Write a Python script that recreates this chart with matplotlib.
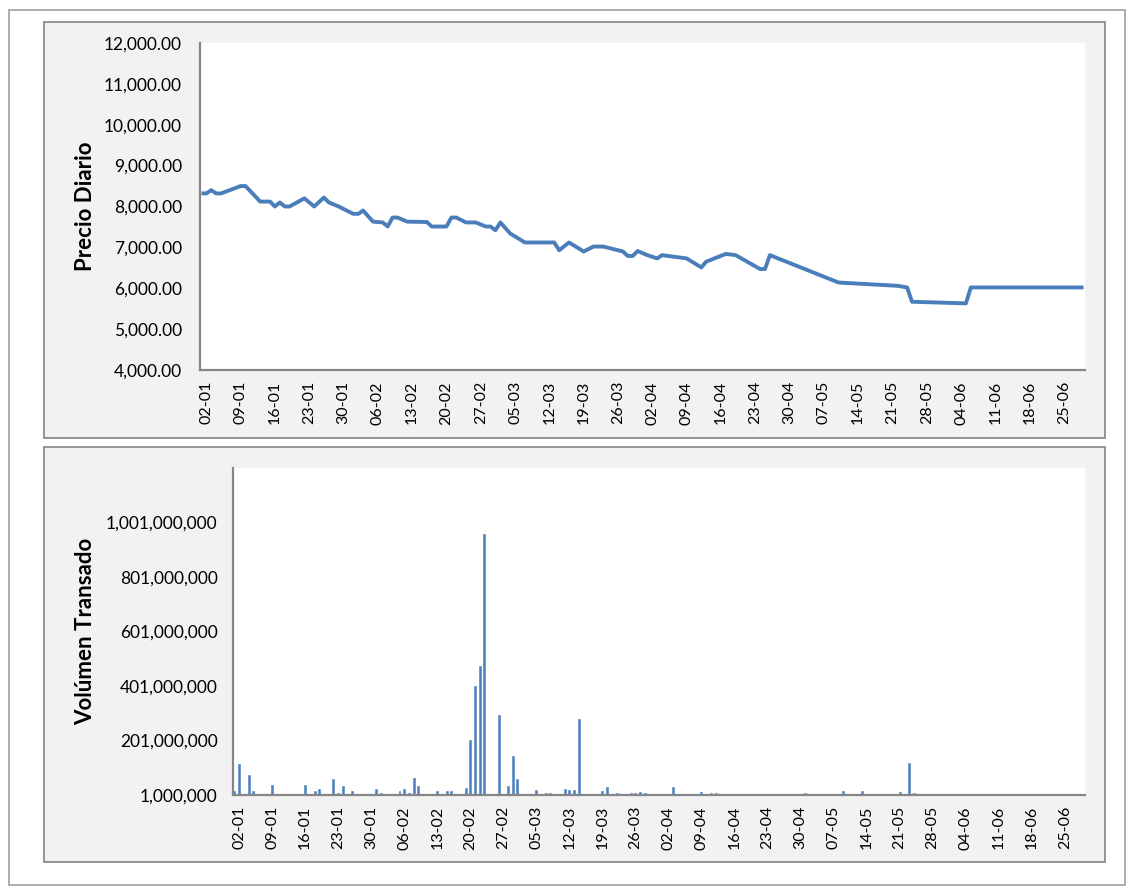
import matplotlib
matplotlib.use('Agg')
import matplotlib.pyplot as plt
import matplotlib.dates as mdates
from matplotlib.patches import Rectangle
from matplotlib.ticker import FuncFormatter, FixedLocator
import pandas as pd

# ---------------- data ----------------
price_dates = ["2012-01-01", "2012-01-02", "2012-01-03", "2012-01-04", "2012-01-05",
               "2012-01-09", "2012-01-10", "2012-01-13", "2012-01-15", "2012-01-16",
               "2012-01-17", "2012-01-18", "2012-01-19", "2012-01-22", "2012-01-24",
               "2012-01-26", "2012-01-27", "2012-01-29", "2012-02-01", "2012-02-02",
               "2012-02-03", "2012-02-05", "2012-02-07", "2012-02-08", "2012-02-09",
               "2012-02-10", "2012-02-12", "2012-02-16", "2012-02-17", "2012-02-20",
               "2012-02-21", "2012-02-22", "2012-02-24", "2012-02-26", "2012-02-28",
               "2012-02-29", "2012-03-01", "2012-03-02", "2012-03-04", "2012-03-07",
               "2012-03-13", "2012-03-14", "2012-03-16", "2012-03-19", "2012-03-21",
               "2012-03-23", "2012-03-26", "2012-03-27", "2012-03-28", "2012-03-29",
               "2012-03-30", "2012-04-01", "2012-04-03", "2012-04-04", "2012-04-09",
               "2012-04-12", "2012-04-13", "2012-04-17", "2012-04-19", "2012-04-24",
               "2012-04-25", "2012-04-26", "2012-05-10", "2012-05-22", "2012-05-24",
               "2012-05-25", "2012-06-05", "2012-06-06", "2012-06-29"]
price_values = [8320, 8320, 8400, 8320, 8320,
                8500, 8500, 8120, 8120, 8000,
                8100, 8000, 8000, 8200, 8000,
                8220, 8100, 8000, 7820, 7820,
                7900, 7630, 7610, 7510, 7730,
                7730, 7630, 7620, 7510, 7510,
                7730, 7730, 7610, 7610, 7510,
                7510, 7420, 7610, 7340, 7120,
                7120, 6930, 7120, 6900, 7020,
                7020, 6930, 6900, 6790, 6790,
                6910, 6810, 6730, 6810, 6730,
                6510, 6650, 6840, 6810, 6470,
                6470, 6810, 6140, 6060, 6020,
                5670, 5630, 6020, 6020]

volume_dates = ["2012-01-01", "2012-01-02", "2012-01-04", "2012-01-05", "2012-01-09",
                "2012-01-16", "2012-01-18", "2012-01-19", "2012-01-22", "2012-01-23",
                "2012-01-24", "2012-01-26", "2012-01-31", "2012-02-01", "2012-02-05",
                "2012-02-06", "2012-02-07", "2012-02-08", "2012-02-09", "2012-02-12",
                "2012-02-13", "2012-02-15", "2012-02-16", "2012-02-19", "2012-02-20",
                "2012-02-21", "2012-02-22", "2012-02-23", "2012-02-26", "2012-02-28",
                "2012-02-29", "2012-03-01", "2012-03-05", "2012-03-07", "2012-03-08",
                "2012-03-11", "2012-03-12", "2012-03-13", "2012-03-14", "2012-03-19",
                "2012-03-20", "2012-03-22", "2012-03-25", "2012-03-26", "2012-03-27",
                "2012-03-28", "2012-03-29", "2012-04-02", "2012-04-03", "2012-04-09",
                "2012-04-11", "2012-04-12", "2012-04-16", "2012-04-19", "2012-04-23",
                "2012-04-24", "2012-04-25", "2012-05-01", "2012-05-09", "2012-05-13",
                "2012-05-21", "2012-05-23", "2012-05-24", "2012-06-04", "2012-06-05",
                "2012-06-06", "2012-06-07", "2012-06-11", "2012-06-12", "2012-06-13",
                "2012-06-15", "2012-06-18", "2012-06-19", "2012-06-20", "2012-06-22",
                "2012-06-24", "2012-06-25", "2012-06-26", "2012-06-27", "2012-06-28"]
volume_values = [16e6, 114e6, 76e6, 16e6, 38e6,
                 38e6, 16e6, 22e6, 60e6, 10e6,
                 33e6, 16e6, 22e6, 10e6, 16e6,
                 22e6, 10e6, 65e6, 33e6, 0,
                 16e6, 16e6, 16e6, 26e6, 203e6,
                 402e6, 475e6, 957e6, 295e6, 34e6,
                 144e6, 59e6, 20e6, 9e6, 9e6,
                 23e6, 20e6, 20e6, 279e6, 14e6,
                 30e6, 8e6, 8e6, 9e6, 12e6,
                 7e6, 4e6, 0, 32e6, 12e6,
                 7e6, 7e6, 2e6, 2e6, 2e6,
                 2e6, 2e6, 7e6, 16e6, 16e6,
                 13e6, 120e6, 8e6, 0, 0,
                 0, 0, 0, 0, 0,
                 0, 0, 0, 0, 0,
                 0, 0, 0, 0, 0]

price_ticks = [4000, 5000, 6000, 7000, 8000, 9000, 10000, 11000, 12000]
volume_ticks = [1000000, 201000000, 401000000, 601000000, 801000000, 1001000000]
week_ticks = pd.date_range("2012-01-02", "2012-06-25", freq="7D")

# ---------------- layout ----------------
W, H = 1134, 892
plt.rcParams['font.family'] = ['Lato', 'DejaVu Sans']
fig = plt.figure(figsize=(W / 100, H / 100), dpi=100)
fig.patch.set_facecolor('white')


def fr(x0, y0, x1, y1):
    return [x0 / W, 1 - y1 / H, (x1 - x0) / W, (y1 - y0) / H]


def rect(x0, y0, x1, y1, **kw):
    fig.patches.append(Rectangle((x0 / W, 1 - y1 / H), (x1 - x0) / W, (y1 - y0) / H,
                                 transform=fig.transFigure, zorder=-10, **kw))


rect(9, 10, 1125, 885, fill=False, edgecolor='#a0a0a0', lw=1.2)
rect(44, 22, 1105, 438, facecolor='#f2f2f2', edgecolor='#8c8c8c', lw=1.3)
rect(44, 447, 1105, 862, facecolor='#f2f2f2', edgecolor='#8c8c8c', lw=1.3)

x_left = pd.Timestamp("2012-01-02") - pd.Timedelta(hours=31)
x_right = pd.Timestamp("2012-01-02") + pd.Timedelta(hours=179.3 * 24)

axis_grey = '#868686'
blue_line = '#4a7ebb'
blue_bar = '#4f81bd'


def style(ax, xpad):
    ax.set_facecolor('white')
    for s in ['top', 'right']:
        ax.spines[s].set_visible(False)
    for s in ['left', 'bottom']:
        ax.spines[s].set_color(axis_grey)
        ax.spines[s].set_linewidth(1.6)
    ax.set_xlim(x_left, x_right)
    ax.xaxis.set_major_locator(FixedLocator(mdates.date2num(week_ticks)))
    ax.xaxis.set_major_formatter(mdates.DateFormatter('%d-%m'))
    ax.tick_params(axis='x', length=0, pad=xpad, labelsize=11.5, rotation=90, colors='black')
    ax.tick_params(axis='y', length=0, labelsize=12.5, colors='black')


# top chart
ax1 = fig.add_axes(fr(200, 43, 1085, 370))
style(ax1, 8)
ax1.plot(pd.to_datetime(price_dates), price_values, color=blue_line, lw=2.8,
         solid_joinstyle='round', solid_capstyle='butt')
ax1.set_ylim(4000, 12000)
ax1.yaxis.set_major_locator(FixedLocator(price_ticks))
ax1.yaxis.set_major_formatter(FuncFormatter(lambda v, p: f"{v:,.2f}"))
ax1.tick_params(axis='y', pad=13)
ax1.set_ylabel('Precio Diario', fontsize=16, fontweight='bold')
ax1.yaxis.set_label_coords((96 - 200) / 885, 0.5)

# bottom chart
ax2 = fig.add_axes(fr(233, 468, 1085, 795))
style(ax2, 8)
base = 1000000
ax2.bar(pd.to_datetime(volume_dates), [v - base for v in volume_values], bottom=base,
        width=0.42, color=blue_bar, edgecolor=blue_bar, lw=0.4, clip_on=False)
ax2.set_ylim(base, 1201000000)
ax2.yaxis.set_major_locator(FixedLocator(volume_ticks))
ax2.yaxis.set_major_formatter(FuncFormatter(lambda v, p: f"{v:,.0f}"))
ax2.tick_params(axis='y', pad=11)
ax2.set_ylabel('Volúmen Transado', fontsize=16, fontweight='bold')
ax2.yaxis.set_label_coords((96 - 233) / 852, 0.5)

fig.savefig('out.png', dpi=100, facecolor='white')
